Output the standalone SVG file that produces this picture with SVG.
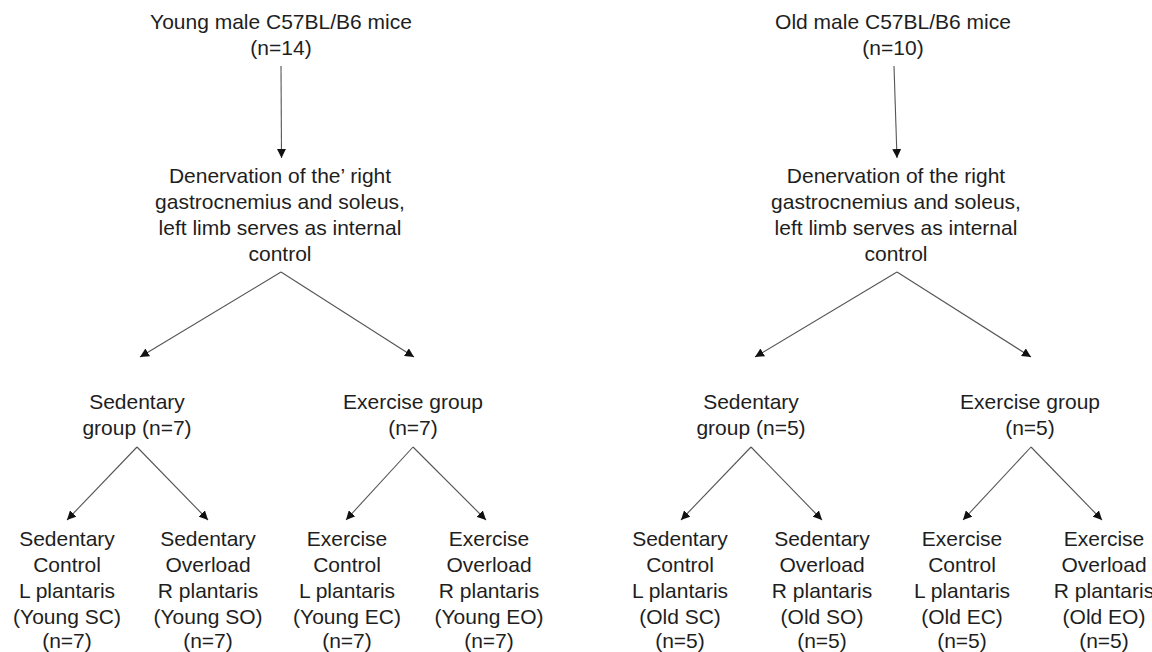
<svg xmlns="http://www.w3.org/2000/svg" width="1152" height="652" viewBox="0 0 1152 652">
<style>
text{font-family:"Liberation Sans",Arial,sans-serif;font-size:21px;fill:#1e1e1e;text-anchor:middle}
.c line{stroke:#555;stroke-width:1.1}
</style>
<defs>
<marker id="ah" viewBox="0 0 10 10" refX="10" refY="5" markerWidth="9" markerHeight="9" markerUnits="userSpaceOnUse" orient="auto">
<path d="M0,0 L10,5 L0,10 z" fill="#111"/>
</marker>
</defs>
<rect width="1152" height="652" fill="#fff"/>
<g class="c" id="connectors">
<line x1="281" y1="66" x2="281.5" y2="158" marker-end="url(#ah)"/>
<line x1="281" y1="272" x2="140" y2="357" marker-end="url(#ah)"/>
<line x1="281" y1="272" x2="414" y2="357" marker-end="url(#ah)"/>
<line x1="137" y1="447" x2="67" y2="520" marker-end="url(#ah)"/>
<line x1="137" y1="447" x2="208" y2="520" marker-end="url(#ah)"/>
<line x1="413" y1="447" x2="346" y2="520" marker-end="url(#ah)"/>
<line x1="413" y1="447" x2="486" y2="520" marker-end="url(#ah)"/>
<line x1="894" y1="66" x2="897" y2="158" marker-end="url(#ah)"/>
<line x1="897" y1="272" x2="755" y2="357" marker-end="url(#ah)"/>
<line x1="897" y1="272" x2="1031" y2="357" marker-end="url(#ah)"/>
<line x1="751" y1="447" x2="681" y2="520" marker-end="url(#ah)"/>
<line x1="751" y1="447" x2="822" y2="520" marker-end="url(#ah)"/>
<line x1="1031" y1="447" x2="963" y2="520" marker-end="url(#ah)"/>
<line x1="1031" y1="447" x2="1102" y2="520" marker-end="url(#ah)"/>
</g>
<g id="young-root"><text x="281" y="29">Young male C57BL/B6 mice</text><text x="281" y="55">(n=14)</text></g>
<g id="young-denerv"><text x="280" y="183">Denervation of the’ right</text><text x="280" y="209">gastrocnemius and soleus,</text><text x="280" y="235">left limb serves as internal</text><text x="280" y="261">control</text></g>
<g id="young-sed"><text x="137" y="409">Sedentary</text><text x="137" y="435">group (n=7)</text></g>
<g id="young-ex"><text x="413" y="409">Exercise group</text><text x="413" y="435">(n=7)</text></g>
<g id="young-sc"><text x="67" y="546">Sedentary</text><text x="67" y="572">Control</text><text x="67" y="598">L plantaris</text><text x="67" y="624">(Young SC)</text><text x="67" y="648">(n=7)</text></g>
<g id="young-so"><text x="208" y="546">Sedentary</text><text x="208" y="572">Overload</text><text x="208" y="598">R plantaris</text><text x="208" y="624">(Young SO)</text><text x="208" y="648">(n=7)</text></g>
<g id="young-ec"><text x="347" y="546">Exercise</text><text x="347" y="572">Control</text><text x="347" y="598">L plantaris</text><text x="347" y="624">(Young EC)</text><text x="347" y="648">(n=7)</text></g>
<g id="young-eo"><text x="489" y="546">Exercise</text><text x="489" y="572">Overload</text><text x="489" y="598">R plantaris</text><text x="489" y="624">(Young EO)</text><text x="489" y="648">(n=7)</text></g>
<g id="old-root"><text x="893" y="29">Old male C57BL/B6 mice</text><text x="893" y="55">(n=10)</text></g>
<g id="old-denerv"><text x="896" y="183">Denervation of the right</text><text x="896" y="209">gastrocnemius and soleus,</text><text x="896" y="235">left limb serves as internal</text><text x="896" y="261">control</text></g>
<g id="old-sed"><text x="751" y="409">Sedentary</text><text x="751" y="435">group (n=5)</text></g>
<g id="old-ex"><text x="1030" y="409">Exercise group</text><text x="1030" y="435">(n=5)</text></g>
<g id="old-sc"><text x="680" y="546">Sedentary</text><text x="680" y="572">Control</text><text x="680" y="598">L plantaris</text><text x="680" y="624">(Old SC)</text><text x="680" y="648">(n=5)</text></g>
<g id="old-so"><text x="822" y="546">Sedentary</text><text x="822" y="572">Overload</text><text x="822" y="598">R plantaris</text><text x="822" y="624">(Old SO)</text><text x="822" y="648">(n=5)</text></g>
<g id="old-ec"><text x="962" y="546">Exercise</text><text x="962" y="572">Control</text><text x="962" y="598">L plantaris</text><text x="962" y="624">(Old EC)</text><text x="962" y="648">(n=5)</text></g>
<g id="old-eo"><text x="1104" y="546">Exercise</text><text x="1104" y="572">Overload</text><text x="1104" y="598">R plantaris</text><text x="1104" y="624">(Old EO)</text><text x="1104" y="648">(n=5)</text></g>
</svg>
